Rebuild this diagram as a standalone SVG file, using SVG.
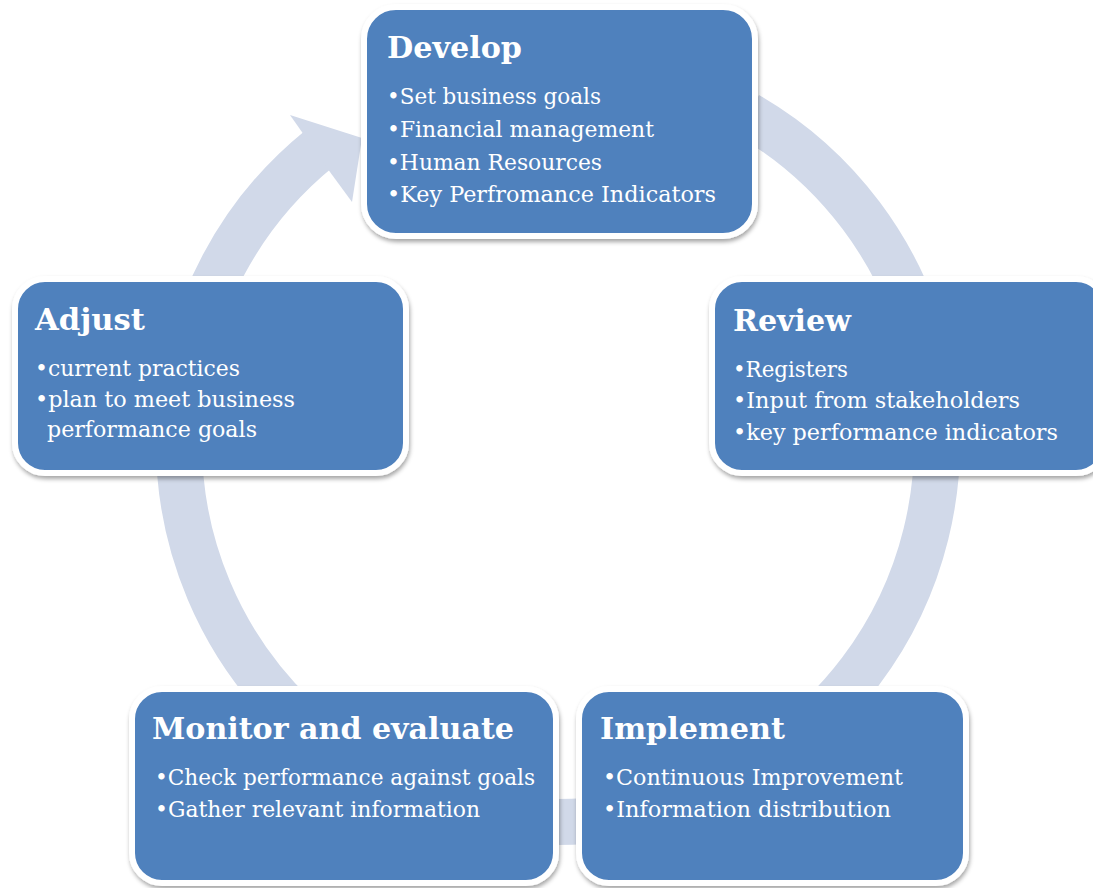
<svg xmlns="http://www.w3.org/2000/svg" width="1093" height="888" viewBox="0 0 1093 888">
<style>
.box{fill:#4F81BD;stroke:#FFFFFF;stroke-width:6;filter:url(#sh)}
.t{font-family:"DejaVu Serif","Liberation Serif",serif;font-weight:bold;font-size:29px;fill:#FFFFFF}
.b{font-family:"DejaVu Serif","Liberation Serif",serif;font-size:23px;fill:#FFFFFF}
.ring{fill:none;stroke:#D1D9E9;stroke-width:46}
</style>
<defs>
<filter id="sh" x="-10%" y="-10%" width="120%" height="125%">
<feDropShadow dx="1" dy="3" stdDeviation="2" flood-color="#000" flood-opacity="0.35"/>
</filter>
</defs>
<rect width="1093" height="888" fill="#FFFFFF"/>
<g id="connectors">
<path class="ring" d="M 747.5 114.8 A 379 379 0 1 1 319.5 148.5"/>
<polygon points="290,115 362,138 352,202 330,172" fill="#D1D9E9"/>
</g>
<g id="develop">
<rect class="box" x="364" y="7" width="391" height="229" rx="32"/>
<text class="t" x="387" y="58" textLength="135" lengthAdjust="spacingAndGlyphs">Develop</text>
<text class="b" x="387" y="104" textLength="214" lengthAdjust="spacingAndGlyphs">•Set business goals</text>
<text class="b" x="387" y="137" textLength="267" lengthAdjust="spacingAndGlyphs">•Financial management</text>
<text class="b" x="387" y="170" textLength="215" lengthAdjust="spacingAndGlyphs">•Human Resources</text>
<text class="b" x="387" y="202" textLength="329" lengthAdjust="spacingAndGlyphs">•Key Perfromance Indicators</text>
</g>
<g id="review">
<rect class="box" x="712" y="279" width="394" height="194" rx="30"/>
<text class="t" x="733" y="331" textLength="118" lengthAdjust="spacingAndGlyphs">Review</text>
<text class="b" x="733" y="377" textLength="115" lengthAdjust="spacingAndGlyphs">•Registers</text>
<text class="b" x="733" y="408" textLength="287" lengthAdjust="spacingAndGlyphs">•Input from stakeholders</text>
<text class="b" x="733" y="440" textLength="325" lengthAdjust="spacingAndGlyphs">•key performance indicators</text>
</g>
<g id="adjust">
<rect class="box" x="15" y="279" width="391" height="194" rx="30"/>
<text class="t" x="35" y="330" textLength="110" lengthAdjust="spacingAndGlyphs">Adjust</text>
<text class="b" x="35" y="376" textLength="205" lengthAdjust="spacingAndGlyphs">•current practices</text>
<text class="b" x="35" y="407" textLength="260" lengthAdjust="spacingAndGlyphs">•plan to meet business</text>
<text class="b" x="47" y="437" textLength="210" lengthAdjust="spacingAndGlyphs">performance goals</text>
</g>
<g id="monitor">
<rect class="box" x="132" y="689" width="424" height="194" rx="30"/>
<text class="t" x="152" y="739" textLength="362" lengthAdjust="spacingAndGlyphs">Monitor and evaluate</text>
<text class="b" x="155" y="785" textLength="380" lengthAdjust="spacingAndGlyphs">•Check performance against goals</text>
<text class="b" x="155" y="817" textLength="325" lengthAdjust="spacingAndGlyphs">•Gather relevant information</text>
</g>
<g id="implement">
<rect class="box" x="579" y="689" width="387" height="194" rx="30"/>
<text class="t" x="600" y="739" textLength="185" lengthAdjust="spacingAndGlyphs">Implement</text>
<text class="b" x="603" y="785" textLength="300" lengthAdjust="spacingAndGlyphs">•Continuous Improvement</text>
<text class="b" x="603" y="817" textLength="288" lengthAdjust="spacingAndGlyphs">•Information distribution</text>
</g>
</svg>
